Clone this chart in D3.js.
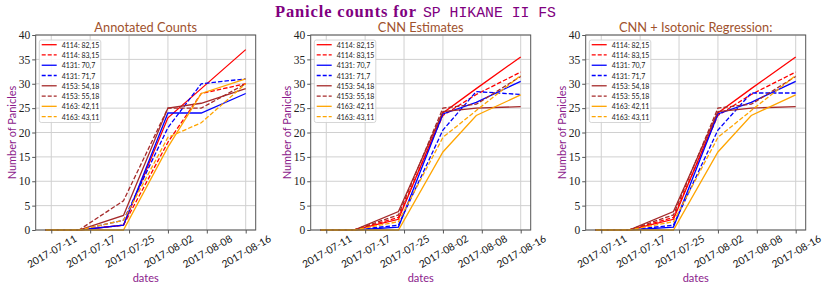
<!DOCTYPE html>
<html><head><meta charset="utf-8">
<script src="https://cdn.jsdelivr.net/npm/d3@7"></script>
<style>body{margin:0;background:#fff}svg{display:block}</style>
</head><body>
<script>
const dates = ["2017-07-11","2017-07-17","2017-07-25","2017-08-02","2017-08-08","2017-08-16"];
const tickDates = ["2017-07-12","2017-07-19","2017-07-26","2017-08-02","2017-08-09","2017-08-16"];
const tickLabels = ["2017-07-11","2017-07-17","2017-07-25","2017-08-02","2017-08-08","2017-08-16"];
const yTicks = [0,5,10,15,20,25,30,35,40];
const seriesNames = ["4114: 82,15","4114: 83,15","4131: 70,7","4131: 71,7","4153: 54,18","4153: 55,18","4163: 42,11","4163: 43,11"];
const seriesColors = ["#ff0000","#ff0000","#0000ff","#0000ff","#a52a2a","#a52a2a","#ffa500","#ffa500"];
const seriesDashed = [false,true,false,true,false,true,false,true];
const panelTitles = ["Annotated Counts","CNN Estimates","CNN + Isotonic Regression:"];

const annotated = [
  [0,0,1,23,29,37],
  [0,0,1,18,28,30],
  [0,0,1,24,24,28],
  [0,0,2,21,30,31],
  [0,0,3,25,26,29],
  [0,0,6,25,25,30],
  [0,0,0,17,28,31],
  [0,0,2,19,22,30]
];
const cnn = [
  [0,0,2.2,24.0,29.0,35.5],
  [0,0,2.6,23.5,27.8,32.4],
  [0,0,0.6,23.8,26.2,30.5],
  [0,0,1.0,20.5,28.4,27.8],
  [0,0,3.8,24.3,25.0,25.3],
  [0,0,3.1,25.0,25.8,31.5],
  [0,0,0.0,16.0,23.5,27.7],
  [0,0,1.7,19.0,24.5,31.7]
];
const isotonic = [
  [0,0,2.2,24.0,29.0,35.5],
  [0,0,2.6,23.5,27.8,32.4],
  [0,0,0.6,23.8,26.2,30.5],
  [0,0,1.0,20.5,28.1,28.1],
  [0,0,3.8,24.3,25.0,25.3],
  [0,0,3.1,25.0,25.8,31.5],
  [0,0,0.0,16.0,23.5,27.7],
  [0,0,1.7,19.0,24.5,31.7]
];
const panelData = [annotated, cnn, isotonic];

const W = 830, H = 302;
const svg = d3.select("body").append("svg").attr("width", W).attr("height", H);
const parse = d3.utcParse("%Y-%m-%d");
const dd = dates.map(parse);
const span = dd[dd.length-1] - dd[0];
const xDomain = [new Date(+dd[0] - span*0.05), new Date(+dd[dd.length-1] + span*0.05)];
const purple = "#8b1a8b";
const sienna = "#a0522d";

// Suptitle
svg.append("text").attr("x", 275).attr("y", 17).attr("fill","#800080")
  .attr("font-family","'Liberation Serif', serif").attr("font-weight","bold").attr("font-size",16.5)
  .attr("textLength",141).attr("lengthAdjust","spacing").text("Panicle counts for");
svg.append("text").attr("x", 423).attr("y", 17).attr("fill","#800080")
  .attr("font-family","'Liberation Mono', monospace").attr("font-size",14.8)
  .attr("textLength",133).attr("lengthAdjust","spacing").text("SP HIKANE II FS");

const lefts = [35.7, 310.7, 585.7];
const pw = 220, pTop = 35, pBottom = 230;

panelData.forEach((data, p) => {
  const L = lefts[p];
  const x = d3.scaleUtc().domain(xDomain).range([L, L+pw]);
  const y = d3.scaleLinear().domain([0,40]).range([pBottom, pTop]);
  const g = svg.append("g");
  // grid
  g.selectAll(".gy").data(yTicks).join("line").attr("x1",L).attr("x2",L+pw)
    .attr("y1",d=>y(d)).attr("y2",d=>y(d)).attr("stroke","#d0d0d0").attr("stroke-width",1);
  g.selectAll(".gx").data(tickDates).join("line").attr("x1",d=>x(parse(d))).attr("x2",d=>x(parse(d)))
    .attr("y1",pTop).attr("y2",pBottom).attr("stroke","#d0d0d0").attr("stroke-width",1);
  // lines
  const line = d3.line().x((d,i)=>x(dd[i])).y(d=>y(d));
  data.forEach((s, k) => {
    g.append("path").attr("d", line(s)).attr("fill","none")
      .attr("stroke", seriesColors[k]).attr("stroke-width",1.3)
      .attr("stroke-dasharray", seriesDashed[k] ? "4.5,2" : null);
  });
  // axes
  const ya = d3.axisLeft(y).tickValues(yTicks).tickSize(3.5).tickPadding(2);
  const ga = svg.append("g").attr("transform",`translate(${L},0)`).call(ya);
  ga.select(".domain").remove();
  ga.selectAll("text").attr("font-family","'Liberation Serif', serif").attr("font-size",11.5).attr("fill","#222");
  ga.selectAll("line").attr("stroke","#555");
  const xa = d3.axisBottom(x).tickValues(tickDates.map(parse)).tickSize(3.5).tickFormat((d,i)=>tickLabels[i]);
  const gx = svg.append("g").attr("transform",`translate(0,${pBottom})`).call(xa);
  gx.select(".domain").remove();
  gx.selectAll("line").attr("stroke","#555");
  gx.selectAll("text").attr("font-family","Lato, sans-serif").attr("font-size",10.2).attr("fill","#111")
    .attr("text-anchor","middle").attr("dominant-baseline","central").attr("dy",null)
    .attr("y", 21).attr("transform","rotate(-30,0,21)");
  // frame
  svg.append("rect").attr("x",L).attr("y",pTop).attr("width",pw).attr("height",pBottom-pTop)
    .attr("fill","none").attr("stroke","#555").attr("stroke-width",1);
  // title
  svg.append("text").attr("x",L+pw/2).attr("y",32).attr("text-anchor","middle")
    .attr("font-family","Lato, sans-serif").attr("font-size",12.8).attr("fill",sienna).text(panelTitles[p]);
  // axis labels
  svg.append("text").attr("transform",`translate(${L-20},${(pTop+pBottom)/2}) rotate(-90)`)
    .attr("text-anchor","middle").attr("font-family","Lato, sans-serif").attr("font-size",11)
    .attr("fill",purple).text("Number of Panicles");
  svg.append("text").attr("x",L+pw/2).attr("y",282).attr("text-anchor","middle")
    .attr("font-family","Lato, sans-serif").attr("font-size",11).attr("fill",purple).text("dates");
  // legend
  const lx = L+3.6, ly = 40;
  const lg = svg.append("g");
  lg.append("rect").attr("x",lx).attr("y",ly).attr("width",61.5).attr("height",82.5).attr("rx",2)
    .attr("fill","#fff").attr("fill-opacity",0.85).attr("stroke","#ccc").attr("stroke-width",0.8);
  seriesNames.forEach((nm,k) => {
    const yy = ly + 4.7 + k*10.27;
    lg.append("line").attr("x1",lx+2.4).attr("x2",lx+17.4).attr("y1",yy).attr("y2",yy)
      .attr("stroke",seriesColors[k]).attr("stroke-width",1.3)
      .attr("stroke-dasharray", seriesDashed[k] ? "4,2" : null);
    lg.append("text").attr("x",lx+22.4).attr("y",yy).attr("dominant-baseline","central")
      .attr("font-family","Lato, sans-serif").attr("font-size",7).attr("fill","#222").text(nm);
  });
});
</script>
</body></html>
